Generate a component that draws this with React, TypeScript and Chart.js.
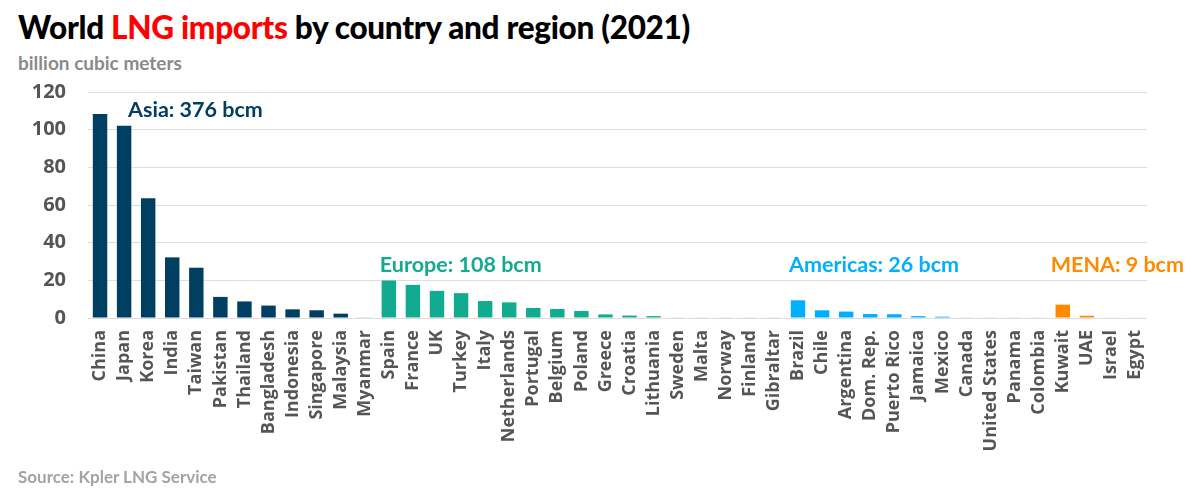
import React, { useEffect, useRef } from "react";
import { Chart, registerables } from "chart.js";

Chart.register(...registerables);

const categories = [
  "China", "Japan", "Korea", "India", "Taiwan", "Pakistan", "Thailand", "Bangladesh", "Indonesia", "Singapore", "Malaysia", "Myanmar",
  "Spain", "France", "UK", "Turkey", "Italy", "Netherlands", "Portugal", "Belgium", "Poland", "Greece", "Croatia", "Lithuania", "Sweden", "Malta", "Norway", "Finland", "Gibraltar",
  "Brazil", "Chile", "Argentina", "Dom. Rep.", "Puerto Rico", "Jamaica", "Mexico", "Canada", "United States", "Panama", "Colombia",
  "Kuwait", "UAE", "Israel", "Egypt",
];

const values = [
  108.3, 102.1, 63.6, 32.2, 26.7, 11.2, 8.8, 6.6, 4.6, 4.1, 2.3, 0.5,
  19.9, 17.6, 14.4, 13.2, 9.0, 8.3, 5.3, 4.8, 3.7, 1.9, 1.3, 1.0, 0.5, 0.5, 0.5, 0.5, 0.5,
  9.4, 4.1, 3.4, 2.1, 2.0, 1.0, 0.7, 0.5, 0.5, 0.5, 0.5,
  7.1, 1.2, 0.5, 0.5,
];

const regions = [
  "Asia", "Asia", "Asia", "Asia", "Asia", "Asia", "Asia", "Asia", "Asia", "Asia", "Asia", "Asia",
  "Europe", "Europe", "Europe", "Europe", "Europe", "Europe", "Europe", "Europe", "Europe", "Europe", "Europe", "Europe", "Europe", "Europe", "Europe", "Europe", "Europe",
  "Americas", "Americas", "Americas", "Americas", "Americas", "Americas", "Americas", "Americas", "Americas", "Americas", "Americas",
  "MENA", "MENA", "MENA", "MENA",
];

const regionNames = ["Asia", "Europe", "Americas", "MENA"];
const regionColors = ["#013f62", "#12ab8f", "#00b0ff", "#ff8a00"];
const regionFaintColors = ["#c6d2dc", "#c6e9e1", "#c6e6f6", "#f9dfc6"];
const regionLabels = ["Asia: 376 bcm", "Europe: 108 bcm", "Americas: 26 bcm", "MENA: 9 bcm"];
const regionLabelAnchors = ["Japan", "Spain", "Brazil", "Kuwait"];
const regionLabelValues = [110.5, 28, 28, 28];

const yTicks = [0, 20, 40, 60, 80, 100, 120];

const FONT = "Lato, 'Open Sans', sans-serif";
const TICK_FONT = "'Open Sans', Lato, sans-serif";

const regionLabelPlugin = {
  id: "regionLabels",
  afterDatasetsDraw(chart: any) {
    const ctx = chart.ctx;
    const x = chart.scales.x;
    const y = chart.scales.y;
    ctx.save();
    ctx.font = `bold 21.5px ${FONT}`;
    ctx.textBaseline = "middle";
    ctx.textAlign = "left";
    regionNames.forEach((r, i) => {
      const idx = categories.indexOf(regionLabelAnchors[i]);
      const px = x.getPixelForValue(idx) + (i === 0 ? 4 : i === 3 ? -12 : -9);
      const py = y.getPixelForValue(regionLabelValues[i]);
      ctx.fillStyle = regionColors[i];
      ctx.fillText(regionLabels[i], px, py);
    });
    ctx.restore();
  },
};

export default function App() {
  const ref = useRef<HTMLCanvasElement>(null);

  useEffect(() => {
    if (!ref.current) return;
    const colors = values.map((v, i) => {
      const ri = regionNames.indexOf(regions[i]);
      return v < 0.6 ? regionFaintColors[ri] : regionColors[ri];
    });
    const chart = new Chart(ref.current, {
      type: "bar",
      data: {
        labels: categories,
        datasets: [
          {
            data: values,
            backgroundColor: colors,
            barPercentage: 0.6,
            categoryPercentage: 1,
          },
        ],
      },
      options: {
        animation: false,
        responsive: false,
        maintainAspectRatio: false,
        layout: { padding: { top: 12, right: 53, bottom: 0, left: 0 } },
        plugins: {
          legend: { display: false },
          tooltip: { enabled: false },
        },
        scales: {
          x: {
            grid: { display: false },
            border: { display: false },
            ticks: {
              autoSkip: false,
              maxRotation: 90,
              minRotation: 90,
              padding: 4,
              color: "#555",
              font: { family: TICK_FONT, weight: "bold", size: 18 },
            },
            afterFit(scale: any) {
              scale.height = 152;
            },
          },
          y: {
            min: 0,
            max: 120,
            afterBuildTicks(scale: any) {
              scale.ticks = yTicks.map((v) => ({ value: v }));
            },
            grid: { color: "#dddddd", drawTicks: false, lineWidth: 1 },
            border: { display: false },
            ticks: {
              padding: 22,
              color: "#555",
              font: { family: TICK_FONT, weight: "bold", size: 20 },
            },
            afterFit(scale: any) {
              scale.width = 88;
            },
          },
        },
      },
      plugins: [regionLabelPlugin],
    });
    return () => chart.destroy();
  }, []);

  return (
    <div style={{ position: "fixed", left: 0, top: 0, width: 1200, height: 503, background: "#fff", fontFamily: FONT }}>
      <div style={{ position: "absolute", left: 18, top: 8, fontSize: 31.5, fontWeight: 900, color: "#000", whiteSpace: "nowrap", letterSpacing: -0.3 }}>
        World <span style={{ color: "#ff0000" }}>LNG imports</span> by country and region (2021)
      </div>
      <div style={{ position: "absolute", left: 18, top: 51, fontSize: 19, fontWeight: 700, color: "#8a8a8a", whiteSpace: "nowrap" }}>
        billion cubic meters
      </div>
      <canvas ref={ref} width={1200} height={412} style={{ position: "absolute", left: 0, top: 58, width: 1200, height: 412 }} />
      <div style={{ position: "absolute", left: 18, top: 466, fontSize: 17, fontWeight: 700, color: "#a3a3a3", whiteSpace: "nowrap" }}>
        Source: Kpler LNG Service
      </div>
    </div>
  );
}
